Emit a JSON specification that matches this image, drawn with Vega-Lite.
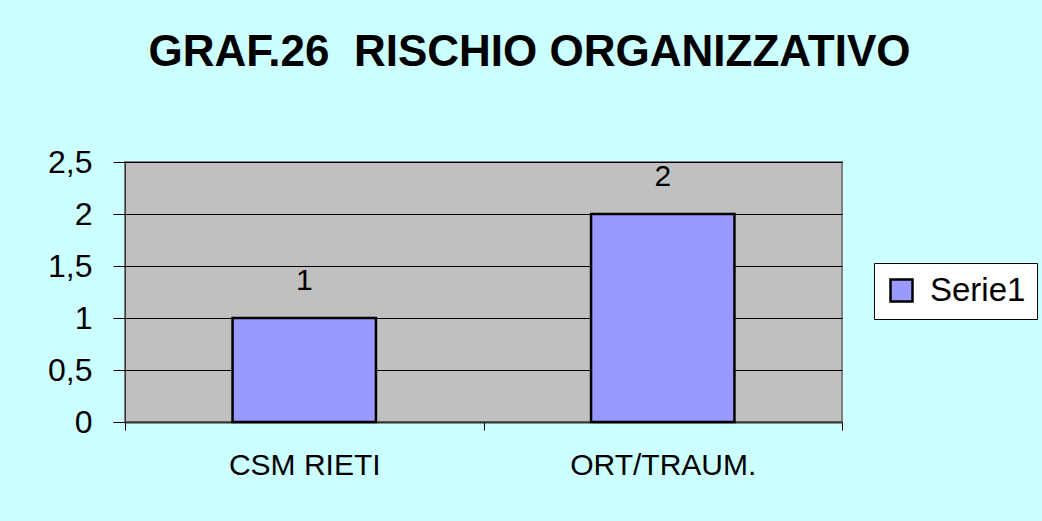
{
  "$schema": "https://vega.github.io/schema/vega-lite/v6.json",
  "width": 717,
  "height": 260,
  "autosize": {"type": "none"},
  "padding": {"left": 125, "top": 162, "right": 200, "bottom": 99},
  "background": "#CCFFFF",
  "title": {
    "text": "GRAF.26\u00a0 RISCHIO ORGANIZZATIVO",
    "font": "Liberation Sans",
    "fontSize": 44,
    "fontWeight": "bold",
    "color": "#000000",
    "anchor": "middle",
    "dx": 46,
    "offset": 71,
    "limit": 1000
  },
  "config": {
    "view": {"fill": "#C0C0C0", "stroke": "#808080", "strokeWidth": 2},
    "font": "Liberation Sans"
  },
  "data": {
    "values": [
      {"category": "CSM RIETI", "value": 1, "series": "Serie1"},
      {"category": "ORT/TRAUM.", "value": 2, "series": "Serie1"}
    ]
  },
  "encoding": {
    "x": {
      "field": "category",
      "type": "nominal",
      "sort": null,
      "scale": {"paddingInner": 0, "paddingOuter": 0},
      "axis": {
        "title": null,
        "labelAngle": 0,
        "labelLimit": 400,
        "labelFont": "Liberation Sans",
        "labelFontSize": 30,
        "labelColor": "#000000",
        "labelPadding": 20,
        "tickBand": "extent",
        "tickSize": 8,
        "tickColor": "#000000",
        "tickWidth": 1,
        "domainColor": "#333333",
        "domainWidth": 2
      }
    },
    "y": {
      "field": "value",
      "type": "quantitative",
      "scale": {"domain": [0, 2.5], "nice": false},
      "axis": {
        "title": null,
        "values": [0, 0.5, 1, 1.5, 2, 2.5],
        "format": "~g",
        "labelExpr": "replace(datum.label, '.', ',')",
        "labelFont": "Liberation Sans",
        "labelFontSize": 32,
        "labelColor": "#000000",
        "labelPadding": 21,
        "tickSize": 12,
        "tickColor": "#000000",
        "tickWidth": 1,
        "domainColor": "#333333",
        "domainWidth": 1,
        "grid": true,
        "gridColor": "#000000",
        "gridWidth": 1,
        "gridOpacity": 1
      }
    }
  },
  "layer": [
    {
      "mark": {"type": "bar", "width": {"band": 0.4}, "stroke": "#000000", "strokeWidth": 2.5},
      "encoding": {
        "color": {
          "field": "series",
          "type": "nominal",
          "scale": {"range": ["#9999FF"]},
          "legend": {
            "title": null,
            "orient": "none",
            "legendX": 749,
            "legendY": 101,
            "fillColor": "#FFFFFF",
            "strokeColor": "#000000",
            "padding": 11,
            "symbolType": "square",
            "symbolSize": 484,
            "symbolStrokeColor": "#000000",
            "symbolStrokeWidth": 2.5,
            "symbolFillColor": "#9999FF",
            "labelFont": "Liberation Sans",
            "labelFontSize": 33,
            "labelColor": "#000000",
            "labelOffset": 12
          }
        }
      }
    },
    {
      "mark": {"type": "text", "baseline": "alphabetic", "dy": -28, "fontSize": 30, "font": "Liberation Sans", "color": "#000000"},
      "encoding": {"text": {"field": "value", "type": "quantitative"}}
    }
  ]
}
